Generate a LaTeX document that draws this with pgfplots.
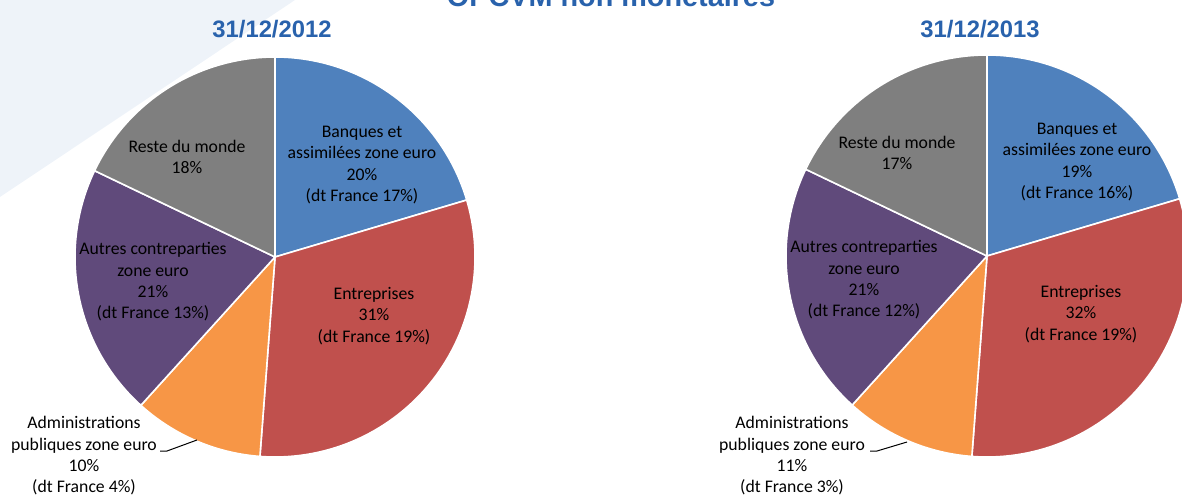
\documentclass[border=0pt]{standalone}
\usepackage{pgfplots}
\pgfplotsset{compat=1.18}
\usepackage{fontspec}
\setmainfont{Carlito}
\newfontfamily\arialfont{Liberation Sans}
\definecolor{cblue}{RGB}{79,129,189}
\definecolor{cred}{RGB}{192,80,77}
\definecolor{corange}{RGB}{247,150,70}
\definecolor{cpurple}{RGB}{96,74,123}
\definecolor{cgray}{RGB}{127,127,127}
\definecolor{ctitle}{RGB}{41,98,172}
\definecolor{cbg}{RGB}{238,243,249}
\tikzset{
  lbl/.style={font=\fontsize{8.85}{10.65}\selectfont, align=center, inner sep=0pt, text=black},
  ttl/.style={font=\arialfont\bfseries\fontsize{11.9}{14}\selectfont, text=ctitle, inner sep=0pt},
}
% slice: center x, center y, cumulative start (%), cumulative end (%), colour, radius
\newcommand{\slice}[6]{%
  \addplot[fill=#5, draw=white, line width=0.8pt, domain={90-3.6*#4}:{90-3.6*#3}, samples=90, variable=\t]
    ({#1+#6*cos(\t)},{#2-#6*sin(\t)}) -- (axis cs:#1,#2) -- cycle;}
\begin{document}
\begin{tikzpicture}
\begin{axis}[
  width=591pt, height=248pt, scale only axis,
  xmin=0, xmax=1182, ymin=0, ymax=496, y dir=reverse,
  hide axis, clip=true,
]
% background swoosh
\addplot[fill=cbg, draw=none] coordinates {(0,0) (295,0) (0,197)} -- cycle;

% ---- 31/12/2012 : slices (cumulative %) ----
\slice{275}{257}{0}{20.4}{cblue}{200}
\slice{275}{257}{20.4}{51.2}{cred}{200}
\slice{275}{257}{51.2}{61.7}{corange}{200}
\slice{275}{257}{61.7}{82.1}{cpurple}{200}
\slice{275}{257}{82.1}{100}{cgray}{200}

% ---- 31/12/2013 ----
\slice{987}{256}{0}{20.4}{cblue}{201}
\slice{987}{256}{20.4}{51.2}{cred}{201}
\slice{987}{256}{51.2}{61.7}{corange}{201}
\slice{987}{256}{61.7}{82.1}{cpurple}{201}
\slice{987}{256}{82.1}{100}{cgray}{201}

% leader lines
\addplot[black, line width=0.5pt] coordinates {(160,451) (167,451) (197,440)};
\addplot[black, line width=0.5pt] coordinates {(870,451) (877,451) (907,442)};

% titles
\node[ttl, anchor=base] at (axis cs:611,7) {\fontsize{14.4}{16}\selectfont OPCVM non monétaires};
\node[ttl] at (axis cs:272,29) {31/12/2012};
\node[ttl] at (axis cs:980,29) {31/12/2013};

% labels 2012
\node[lbl] at (axis cs:362,165) {Banques et\\assimilées zone euro\\20\%\\(dt France 17\%)};
\node[lbl] at (axis cs:187,157) {Reste du monde\\18\%};
\node[lbl] at (axis cs:153,282) {Autres contreparties\\zone euro\\21\%\\(dt France 13\%)};
\node[lbl] at (axis cs:374,316) {Entreprises\\31\%\\(dt France 19\%)};
\node[lbl] at (axis cs:84,456) {Administrations\\publiques zone euro\\10\%\\(dt France 4\%)};

% labels 2013
\node[lbl] at (axis cs:1077,162) {Banques et\\assimilées zone euro\\19\%\\(dt France 16\%)};
\node[lbl] at (axis cs:897,153) {Reste du monde\\17\%};
\node[lbl] at (axis cs:864,280) {Autres contreparties\\zone euro\\21\%\\(dt France 12\%)};
\node[lbl] at (axis cs:1081,314) {Entreprises\\32\%\\(dt France 19\%)};
\node[lbl] at (axis cs:792,456) {Administrations\\publiques zone euro\\11\%\\(dt France 3\%)};
\end{axis}
\pgfresetboundingbox
\path[use as bounding box] (0,0) rectangle (591pt,248pt);
\end{tikzpicture}
\end{document}
